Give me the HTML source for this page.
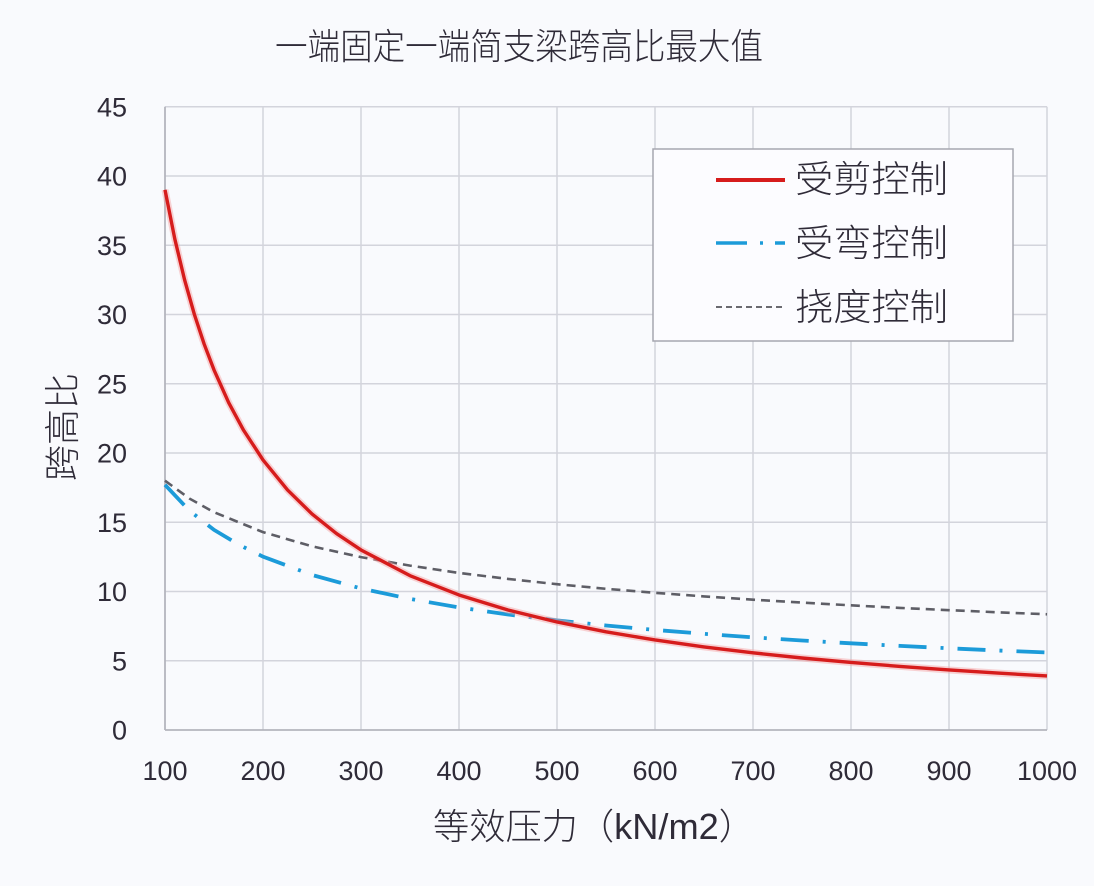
<!DOCTYPE html>
<html>
<head>
<meta charset="utf-8">
<style>
  html,body{margin:0;padding:0;background:#f9fafd;}
  svg{display:block;}
  text{font-family:"Liberation Sans","Noto Sans CJK SC",sans-serif;fill:#2f2b38;}
  .cjk{font-weight:300;}
</style>
</head>
<body>
<svg width="1094" height="886" viewBox="0 0 1094 886" xmlns="http://www.w3.org/2000/svg">
  <rect x="0" y="0" width="1094" height="886" fill="#f9fafd"/>
  <!-- Title -->
  <text class="cjk" x="275" y="59" font-size="36" textLength="488" lengthAdjust="spacingAndGlyphs">一端固定一端简支梁跨高比最大值</text>

  <!-- Grid -->
  <g stroke="#d3d4dc" stroke-width="1.5" fill="none">
    <line x1="165" y1="660.75" x2="1047" y2="660.75"/>
    <line x1="165" y1="591.5" x2="1047" y2="591.5"/>
    <line x1="165" y1="522.25" x2="1047" y2="522.25"/>
    <line x1="165" y1="453" x2="1047" y2="453"/>
    <line x1="165" y1="383.75" x2="1047" y2="383.75"/>
    <line x1="165" y1="314.5" x2="1047" y2="314.5"/>
    <line x1="165" y1="245.25" x2="1047" y2="245.25"/>
    <line x1="165" y1="176" x2="1047" y2="176"/>
    <line x1="165" y1="106.75" x2="1047" y2="106.75"/>
    <line x1="263" y1="106.75" x2="263" y2="730"/>
    <line x1="361" y1="106.75" x2="361" y2="730"/>
    <line x1="459" y1="106.75" x2="459" y2="730"/>
    <line x1="557" y1="106.75" x2="557" y2="730"/>
    <line x1="655" y1="106.75" x2="655" y2="730"/>
    <line x1="753" y1="106.75" x2="753" y2="730"/>
    <line x1="851" y1="106.75" x2="851" y2="730"/>
    <line x1="949" y1="106.75" x2="949" y2="730"/>
    <line x1="1047" y1="106.75" x2="1047" y2="730"/>
  </g>
  <g stroke="#b4b5bd" stroke-width="1.8">
    <line x1="165" y1="106.75" x2="165" y2="730"/>
    <line x1="165" y1="730" x2="1047" y2="730"/>
  </g>

  <!-- Y tick labels -->
  <g font-size="27" text-anchor="end">
    <text x="127" y="739.5">0</text>
    <text x="127" y="670.25">5</text>
    <text x="127" y="601">10</text>
    <text x="127" y="531.75">15</text>
    <text x="127" y="462.5">20</text>
    <text x="127" y="393.25">25</text>
    <text x="127" y="324">30</text>
    <text x="127" y="254.75">35</text>
    <text x="127" y="185.5">40</text>
    <text x="127" y="116.25">45</text>
  </g>
  <!-- X tick labels -->
  <g font-size="27" text-anchor="middle">
    <text x="165" y="780">100</text>
    <text x="263" y="780">200</text>
    <text x="361" y="780">300</text>
    <text x="459" y="780">400</text>
    <text x="557" y="780">500</text>
    <text x="655" y="780">600</text>
    <text x="753" y="780">700</text>
    <text x="851" y="780">800</text>
    <text x="949" y="780">900</text>
    <text x="1047" y="780">1000</text>
  </g>

  <!-- Axis titles -->
  <text class="cjk" x="433" y="839" font-size="36" textLength="322" lengthAdjust="spacingAndGlyphs">等效压力（kN/m2）</text>
  <text class="cjk" transform="translate(75,427) rotate(-90)" font-size="36" text-anchor="middle">跨高比</text>

  <!-- Deflection (gray dashed) -->
  <polyline fill="none" stroke="#5e5e66" stroke-width="2.6" stroke-dasharray="9 6"
    points="165,480.7 189.5,498.58 214,512.21 263,532.13 312,546.31 361,557.14 410,565.6 459,572.94 508,578.9 557,584.21 606,588.8 655,592.81 704,596.4 753,599.67 802,602.6 851,605.35 900,607.9 949,610.16 998,612.3 1047,614.28"/>

  <!-- Bending (blue dash-dot) -->
  <polyline fill="none" stroke="#1c9bd9" stroke-width="3.8" stroke-dasharray="28 14 3 14"
    points="165,484.85 189.5,510.73 214,529.84 238.5,544.5 263,556.65 312,574.95 361,588.47 410,598.9 459,607.43 508,614.5 557,620.37 606,625.5 655,629.92 704,633.8 753,637.34 802,640.5 851,643.33 900,645.9 949,648.28 998,650.5 1047,652.48"/>

  <!-- Shear (red solid) -->
  <polyline fill="none" stroke="#f4a0a0" stroke-opacity="0.45" stroke-width="7" stroke-linejoin="round"
    points="165,189.85 174.8,238.95 184.6,279.87 194.4,314.5 204.2,344.18 214,369.9 228.7,402.64 243.4,429.92 263,459.92 287.5,489.93 312,513.94 336.5,533.58 361,549.95 410,575.67 459,594.96 508,609.97 557,621.97 606,631.8 655,639.97 704,646.9 753,652.84 802,658 851,662.48 900,666.4 949,669.98 998,673.1 1047,675.98"/>
  <polyline fill="none" stroke="#d61c1c" stroke-width="3.4" stroke-linejoin="round"
    points="165,189.85 174.8,238.95 184.6,279.87 194.4,314.5 204.2,344.18 214,369.9 228.7,402.64 243.4,429.92 263,459.92 287.5,489.93 312,513.94 336.5,533.58 361,549.95 410,575.67 459,594.96 508,609.97 557,621.97 606,631.8 655,639.97 704,646.9 753,652.84 802,658 851,662.48 900,666.4 949,669.98 998,673.1 1047,675.98"/>

  <!-- Legend -->
  <rect x="653" y="149" width="360" height="192" fill="#fcfcff" stroke="#a6a7b0" stroke-width="1.5"/>
  <line x1="716" y1="180" x2="785" y2="180" stroke="#d61c1c" stroke-width="4"/>
  <line x1="716" y1="243" x2="785" y2="243" stroke="#1c9bd9" stroke-width="3.6" stroke-dasharray="31 13 3 12 20"/>
  <line x1="716" y1="307" x2="785" y2="307" stroke="#6a6a70" stroke-width="2" stroke-dasharray="6 4"/>
  <g font-size="37" class="cjk">
    <text x="795" y="192" textLength="153" lengthAdjust="spacingAndGlyphs">受剪控制</text>
    <text x="795" y="256" textLength="153" lengthAdjust="spacingAndGlyphs">受弯控制</text>
    <text x="795" y="320" textLength="153" lengthAdjust="spacingAndGlyphs">挠度控制</text>
  </g>
</svg>
</body>
</html>
